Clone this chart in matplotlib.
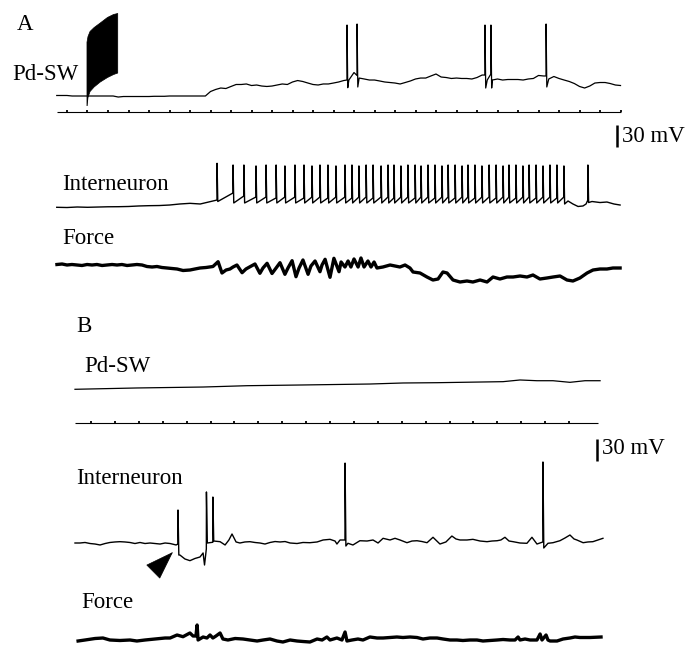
import numpy as np
import matplotlib
matplotlib.use("Agg")
import matplotlib.pyplot as plt

# ---------------- panel A (time in s, 1 tick = 1 s) ----------------
# Pd-SW membrane potential, sampled every 0.25 s from -0.5 s (mV, rel. rest)
pdA_t0, pdA_dt = -0.5, 0.25
pdA_v = [0.7, 0.7, 0.7, 0, 0, 0, 0, 0, 0, 0, 0, 0,
         -1.4, -0.7, -0.7, -0.7, -0.7, -0.7, -0.7, -0.4, -0.4, -0.4, 0, 0,
         0, 0, 0, 0, 0, 0, 6.1, 8.9, 10.9, 10.2, 13.0, 15.7,
         15.7, 16.4, 14.3, 15.0, 13.6, 13.0, 13.6, 15.0, 16.4, 15.7, 19.1, 21.1,
         19.8, 17.7, 15.7, 15.0, 16.4, 16.4, 17.7, 19.1, 21.1, 21.8, 32.0, 24.5,
         23.2, 21.8, 21.8, 20.5, 19.1, 18.4, 17.7, 16.4, 18.4, 20.5, 23.2, 24.5,
         24.5, 27.3, 30.0, 25.9, 25.2, 23.9, 24.5, 23.9, 23.9, 23.2, 25.2, 28.6,
         21.8, 21.8, 23.2, 21.8, 22.5, 22.5, 22.5, 21.8, 23.2, 23.9, 28.0, 27.3,
         23.2, 26.6, 23.9, 21.8, 19.8, 17.0, 13.0, 10.9, 13.6, 17.7, 18.4, 18.4,
         17.0, 15.0, 14.3]
# spikes: time, pre-spike level, peak, after-trough
pdA_spk_t = [13.66, 14.15, 20.39, 20.68, 23.37]
pdA_spk_pre = [21.8, 28.0, 28.6, 30.0, 27.3]
pdA_spk_peak = [96.8, 98.2, 96.8, 96.8, 98.2]
pdA_spk_trough = [11.3, 12.3, 10.9, 10.9, 12.3]
# high-frequency burst drawn as its envelope
burst_t = [0.95, 1.0, 1.1, 1.3, 1.6, 1.95, 2.25, 2.45]
burst_top = [74.0, 81.8, 88.7, 94.1, 100.3, 107.8, 111.9, 113.2]
burst_bot = [-15.0, -1.4, 6.8, 13.0, 19.8, 25.9, 30.0, 32.0]

marks_A = [0, 1, 2, 3, 4, 5, 6, 7, 8, 9, 10, 11, 12, 13, 14,
           15, 16, 17, 18, 19, 20, 21, 22, 23, 24, 25, 26, 27]
marks_A_span = [-0.49, 27.0]

# Interneuron A
inA_t = [-0.5, 0.0, 0.5, 1.0, 1.5, 2.0, 2.5, 3.0, 3.5, 4.0, 4.5, 5.0, 5.5, 6.0, 6.5, 7.0,
         24.44, 24.68, 24.93, 25.17, 25.32, 25.61, 26.0, 26.34, 26.68, 26.98]
inA_v = [-0.4, -0.7, 0, -0.4, 0, 0.3, 0.4, 0.7, 1.4, 1.8, 2.0, 2.7, 4.1, 5.0, 4.1, 7.5,
         8.2, 4.1, 0.7, 1.4, 4.1, 7.5, 6.1, 6.8, 4.1, 2.7]
inA_spk_t = [7.32, 8.10, 8.63, 9.22, 9.71, 10.20, 10.63, 11.12, 11.56, 11.95, 12.34, 12.73,
             13.12, 13.56, 13.90, 14.24, 14.59, 14.93, 15.32, 15.66, 15.95, 16.29, 16.63,
             16.98, 17.27, 17.61, 17.95, 18.29, 18.59, 18.93, 19.27, 19.56, 19.90, 20.24,
             20.59, 20.93, 21.27, 21.56, 21.90, 22.24, 22.54, 22.88, 23.22, 23.56, 23.90,
             24.24, 25.41]
inA_spk_pre = [9.5, 19.1, 15.0, 13.6, 13.6, 12.3, 13.6, 13.6, 12.3, 13.6, 13.6, 12.3,
               13.6, 13.6, 12.3, 13.6, 13.6, 12.3, 13.6, 13.6, 12.3, 13.6, 13.6,
               12.3, 13.6, 13.6, 12.3, 13.6, 13.6, 12.3, 13.6, 13.6, 12.3, 13.6,
               13.6, 12.3, 13.6, 13.6, 12.3, 13.6, 13.6, 12.3, 13.6, 13.6, 12.3,
               13.6, 9.5]
inA_spk_peak = [59.6, 57.3, 57.3, 56.0, 57.3, 57.3, 56.0, 57.3, 57.3, 56.0, 57.3, 57.3,
                56.0, 57.3, 57.3, 56.0, 57.3, 57.3, 56.0, 57.3, 57.3, 56.0, 57.3,
                57.3, 56.0, 57.3, 57.3, 56.0, 57.3, 57.3, 56.0, 57.3, 57.3, 56.0,
                57.3, 57.3, 56.0, 57.3, 57.3, 56.0, 57.3, 57.3, 56.0, 57.3, 57.3,
                56.0, 57.3]
inA_spk_trough = [7.5, 5.5, 5.5, 5.5, 5.5, 5.5, 5.5, 5.5, 5.5, 5.5, 5.5, 5.5,
                  5.5, 5.5, 5.5, 5.5, 5.5, 5.5, 5.5, 5.5, 5.5, 5.5, 5.5,
                  5.5, 5.5, 5.5, 5.5, 5.5, 5.5, 5.5, 5.5, 5.5, 5.5, 5.5,
                  5.5, 5.5, 5.5, 5.5, 5.5, 5.5, 5.5, 5.5, 5.5, 5.5, 5.5,
                  4.1, 6.1]

# Force A (mN, rel.)
fA_t = [-0.49, -0.24, 0, 0.24, 0.49, 0.73, 0.98, 1.22, 1.46, 1.71, 1.95, 2.20, 2.44, 2.68,
        2.93, 3.17, 3.41, 3.66, 3.90, 4.15, 4.39, 4.63, 4.88, 5.12, 5.37, 5.66, 6.00, 6.24,
        6.49, 6.78, 7.12, 7.37, 7.56, 7.76, 7.95, 8.10, 8.29, 8.54, 8.73, 8.93, 9.17, 9.41,
        9.56, 9.76, 10.00, 10.20, 10.39, 10.63, 10.78, 10.98, 11.17, 11.32, 11.51, 11.76,
        11.90, 12.10, 12.34, 12.44, 12.59, 12.83, 13.02, 13.27, 13.37, 13.56, 13.71, 13.85,
        14.00, 14.20, 14.34, 14.49, 14.68, 14.83, 14.98, 15.12, 15.41, 15.76, 16.00, 16.24,
        16.49, 16.73, 16.88, 17.22, 17.56, 17.85, 18.10, 18.34, 18.54, 18.83, 19.17, 19.51,
        19.80, 20.15, 20.49, 20.78, 21.12, 21.46, 21.76, 22.10, 22.44, 22.73, 23.07, 23.41,
        23.71, 24.05, 24.39, 24.68, 25.02, 25.37, 25.66, 26.00, 26.34, 26.63, 26.98]
fA_v = [0.25, 0.5, 0, 0.25, 0, -0.25, 0.25, 0, 0.25, -0.25, 0, 0.25, 0, 0.25,
        -0.25, 0, 0.25, 0, -0.75, -1, -0.75, -1.25, -1.5, -1.75, -2, -2.75, -2.5, -2,
        -1.5, -1.25, -0.75, 1.65, -4, -2.5, -2, -1, 0, -3.85, -2, -0.85, 0.5, -4.15,
        -1.5, 0.85, -4.25, -1.5, 1.15, -4.65, -1.5, 2.15, -5.85, -1.5, 2.5, -4.65,
        -0.5, 2, -3.35, 0, 2.85, -6.15, 3.35, -3.35, 1.5, -1, 2, -1,
        3, -1, 3.5, -1, 2, -1, 1.5, -1.5, -1, 0, -0.5, -1,
        0, -1.5, -3.5, -4, -6, -7.5, -7, -3.5, -4, -7.5, -8.5, -8,
        -8.5, -7.5, -8.5, -6, -7, -6, -6, -5.5, -6, -5, -7, -6.5,
        -6, -5.5, -7.5, -8, -6.5, -4, -2.5, -2, -2, -1.5, -1.5]

# ---------------- panel B ----------------
pdB_t = [-0.67, 1.92, 4.69, 6.53, 8.87, 11.67, 13.05, 14.48, 17.24, 17.95, 18.66,
         19.33, 20.04, 20.67, 21.30]
pdB_v = [-0.4, 1.4, 2.7, 4.5, 5.5, 6.8, 8.2, 8.6, 10.0, 12.3, 11.3, 11.3, 9.1, 11.3, 11.3]

marks_B = [0, 1, 2, 3, 4, 5, 6, 7, 8, 9, 10, 11, 12, 13, 14, 15, 16, 17, 18, 19, 20]
marks_B_span = [-0.67, 21.2]

inB_t = [-0.67, -0.46, -0.25, -0.04, 0.17, 0.38, 0.59, 0.79, 1.00, 1.21, 1.42, 1.63, 1.84,
         2.05, 2.26, 2.47, 2.68, 2.89, 3.10, 3.31, 3.56, 3.72, 3.93, 4.14, 4.35, 4.56, 4.69,
         4.75, 5.40, 5.61, 5.77, 5.90, 6.07, 6.23, 6.44, 6.65, 6.86, 7.07, 7.28, 7.49,
         7.70, 7.91, 8.12, 8.33, 8.62, 8.87, 9.16, 9.46, 9.71, 10.00, 10.21, 10.29, 10.42,
         10.75, 10.96, 11.25, 11.55, 11.80, 12.01, 12.22, 12.51, 12.72, 12.93, 13.22,
         13.43, 13.64, 13.85, 14.06, 14.31, 14.60, 14.85, 15.10, 15.27, 15.44, 15.73,
         15.98, 16.28, 16.57, 16.78, 16.99, 17.15, 17.32, 17.49, 17.66, 17.95, 18.24,
         18.45, 18.66, 19.12, 19.33, 19.50, 19.62, 19.83, 20.04, 20.21, 20.33, 20.59,
         20.79, 21.00, 21.21, 21.42]
inB_v = [0, 0, 0.7, -0.7, -1.4, -2.7, -0.7, 0.7, 1.4, 1.8, 1.4, 0.7, -0.7,
         0.7, -0.7, 0, -0.7, -1.4, 0, -0.7, -2.7, -16.4, -21.8, -24.1, -21.1, -19.1, -13.6,
         -30.0, 1.8, -2.7, 4.1, 12.3, 1.4, 0, 1.4, 1.8, 0.7, 0, -1.4, 0.7,
         2.0, 1.4, 2.0, 0, -0.7, 0.7, 0.4, 1.4, 4.1, 5.0, 2.7, -1.4, 4.1,
         -0.4, -2.7, 3.1, 2.7, 4.1, 0, 6.4, 4.1, 6.4, 4.1, 0.4,
         2.7, 3.1, 2.0, 0.4, 7.8, -1.4, 1.4, 9.5, 5.5, 4.1, 4.1,
         5.0, 2.7, 1.8, 2.7, 3.1, 4.1, 7.8, 2.7, 1.8, 0, -0.4,
         7.8, -1.4, -0.4, 0.4, 2.0, 3.1, 6.8, 10.9, 5.5, 4.1, 0.4,
         1.4, 1.8, 4.1, 6.4]
inB_spk_t = [3.64, 4.83, 5.10, 10.63, 18.91]
inB_spk_pre = [-1.4, -8.0, 1.0, 4.1, 1.4]
inB_spk_peak = [45.0, 69.6, 62.7, 109.0, 110.5]
inB_spk_trough = [-16.4, 0.0, 2.7, -4.1, -6.8]
# arrowhead: tip and back of the head (s, mV)
arrow_tip = (3.43, -12.3)
arrow_back = (2.80, -32.7)

fB_t = [-0.54, -0.25, 0.17, 0.50, 0.79, 1.21, 1.63, 1.92, 2.26, 2.68, 3.10, 3.31, 3.60,
        3.85, 4.06, 4.14, 4.27, 4.39, 4.44, 4.48, 4.69, 4.85, 4.98, 5.10, 5.23, 5.40,
        5.52, 5.73, 6.03, 6.36, 6.65, 6.95, 7.20, 7.49, 7.78, 8.03, 8.33, 8.62, 8.87,
        9.16, 9.46, 9.67, 9.87, 10.00, 10.29, 10.50, 10.63, 10.71, 10.92, 11.17, 11.38,
        11.67, 11.97, 12.22, 12.51, 12.80, 13.05, 13.35, 13.64, 13.89, 14.18, 14.48,
        14.73, 15.02, 15.31, 15.56, 15.86, 16.15, 16.40, 16.69, 16.99, 17.24, 17.53,
        17.74, 17.87, 17.95, 18.16, 18.37, 18.66, 18.79, 18.87, 19.04, 19.12, 19.21,
        19.50, 19.75, 20.04, 20.25, 20.46, 20.88, 21.34]
fB_v = [-0.5, 0, 0.75, 1, 0, -0.25, 0, -0.5, 0, 0.5, 1, 1, 2.5,
        1.65, 3, 3.5, 2, 2, 7.5, 0, 1.5, 1, 2.5, 1, 2, 3.5,
        0.5, 0, 0.75, 0.5, 0, -0.5, 0, 0.5, -0.5, -1, 0, -0.5, -0.75,
        -1, 0.5, 0, 1.5, 0, 1, 0, 4, -0.5, 0, 0.5, 0,
        1.5, 1, 1, 1.25, 1.5, 1.25, 1.5, 1.25, 0.5, 1, 1,
        0.5, 0, 0, -0.25, 0, 0, -0.5, -0.25, 0, 0.25, 0,
        0, 1.5, 0, 0.5, 0, 0, 3, 0, 2.5, 0, -0.5,
        -0.5, 0.5, 1, 1.5, 1.25, 1.25, 1.5]

SCALE_MV = 30
MV_PER_PX = 1.364   # from the 30 mV bar
MN_PER_PX = 0.5

W, H = 698, 647
fig = plt.figure(figsize=(W / 100, H / 100), dpi=100)
plt.rcParams['font.family'] = ['Liberation Serif', 'DejaVu Serif']

xlimA = (-67 / 20.5, (W - 67) / 20.5)
xlimB = (-91 / 23.9, (W - 91) / 23.9)


def trace_ax(top, bot, base, k, xlim):
    ax = fig.add_axes([0, 1 - bot / H, 1, (bot - top) / H])
    ax.set_xlim(xlim)
    ax.set_ylim((base - bot) * k, (base - top) * k)
    ax.axis('off')
    return ax


def with_spikes(t, v, st, pre, pk, tr):
    pts = list(zip(t, v))
    for a, b, c, d in zip(st, pre, pk, tr):
        pts += [(a - 0.004, b), (a, c), (a + 0.035, d)]
    pts.sort()
    tt, vv = zip(*pts)
    return tt, vv


def label(x, y, s, size=16.5):
    fig.text(x / W, 1 - y / H, s, fontsize=size, ha='left', va='center')


# Pd-SW A
ax = trace_ax(0, 105, 96, MV_PER_PX, xlimA)
t = pdA_t0 + pdA_dt * np.arange(len(pdA_v))
tt, vv = with_spikes(t, pdA_v, pdA_spk_t, pdA_spk_pre, pdA_spk_peak, pdA_spk_trough)
ax.plot(tt, vv, color='black', lw=0.9, clip_on=False)
ax.fill_between(burst_t, burst_bot, burst_top, color='black', lw=0.5)

# timing marks A
ax = trace_ax(100, 120, 112, 1, xlimA)
ax.hlines(0, marks_A_span[0], marks_A_span[1], color='black', lw=0.8)
ax.vlines(marks_A, 0, 2.5, color='black', lw=1.3)

# Interneuron A + scale bar
ax = trace_ax(115, 215, 207, MV_PER_PX, xlimA)
tt, vv = with_spikes(inA_t, inA_v, inA_spk_t, inA_spk_pre, inA_spk_peak, inA_spk_trough)
ax.plot(tt, vv, color='black', lw=1.0, clip_on=False)
ax.vlines(26.83, 82.0, 82.0 + SCALE_MV, color='black', lw=1.8)

# Force A
ax = trace_ax(240, 295, 265, MN_PER_PX, xlimA)
ax.plot(fA_t, fA_v, color='black', lw=2.4, solid_joinstyle='round', clip_on=False)

# Pd-SW B
ax = trace_ax(360, 400, 389, MV_PER_PX, xlimB)
ax.plot(pdB_t, pdB_v, color='black', lw=0.9, clip_on=False)

# timing marks B
ax = trace_ax(410, 430, 423, 1, xlimB)
ax.hlines(0, marks_B_span[0], marks_B_span[1], color='black', lw=0.8)
ax.vlines(marks_B, 0, 2.5, color='black', lw=1.3)

# Interneuron B + scale bar + arrowhead
ax = trace_ax(430, 580, 543, MV_PER_PX, xlimB)
tt, vv = with_spikes(inB_t, inB_v, inB_spk_t, inB_spk_pre, inB_spk_peak, inB_spk_trough)
ax.plot(tt, vv, color='black', lw=1.0, clip_on=False)
ax.vlines(21.17, 112.0, 112.0 + SCALE_MV, color='black', lw=1.8, clip_on=False)
ax.annotate('', xy=arrow_tip, xytext=arrow_back,
            arrowprops=dict(arrowstyle='-|>,head_length=1.6,head_width=0.55',
                            mutation_scale=12, color='black', lw=0.5,
                            shrinkA=0, shrinkB=0))

# Force B
ax = trace_ax(590, 647, 640, MN_PER_PX, xlimB)
ax.plot(fB_t, fB_v, color='black', lw=2.4, solid_joinstyle='round', clip_on=False)

label(17, 24, 'A')
label(12, 74, 'Pd-SW')
label(622, 136, '30 mV')
label(62, 184, 'Interneuron')
label(62, 238, 'Force')
label(76, 326, 'B')
label(84, 366, 'Pd-SW')
label(602, 449, '30 mV')
label(76, 479, 'Interneuron')
label(81, 603, 'Force')

fig.savefig('out.png', dpi=100)
